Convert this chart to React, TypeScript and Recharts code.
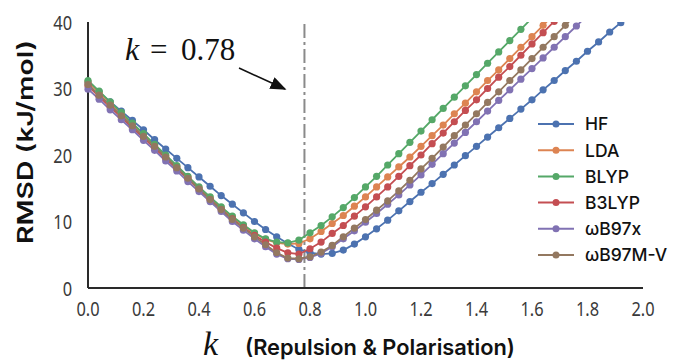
import React from "react";
import { Line, LineChart, ReferenceLine, XAxis, YAxis } from "recharts";

// k grid (0.04 steps) and RMSD (kJ/mol) per method.
// null = beyond the top of the axis (line is clipped there).
const K = [
  0, 0.04, 0.08, 0.12, 0.16, 0.2, 0.24, 0.28, 0.32, 0.36, 0.4, 0.44, 0.48, 0.52, 0.56, 0.6, 0.64,
  0.68, 0.72, 0.76, 0.8, 0.84, 0.88, 0.92, 0.96, 1.0, 1.04, 1.08, 1.12, 1.16, 1.2, 1.24, 1.28,
  1.32, 1.36, 1.4, 1.44, 1.48, 1.52, 1.56, 1.6, 1.64, 1.68, 1.72, 1.76, 1.8, 1.84, 1.88, 1.92,
  1.96, 2.0,
];

const HF = [
  30.9, 29.5, 28.0, 26.6, 25.2, 23.8, 22.3, 20.9, 19.5, 18.1, 16.7, 15.3, 13.9, 12.6, 11.3, 10.0,
  8.8, 7.7, 6.7, 5.8, 5.3, 5.1, 5.2, 5.7, 6.6, 7.7, 8.9, 10.2, 11.6, 13.0, 14.4, 15.7, 17.1, 18.5,
  19.9, 21.3, 22.7, 24.1, 25.5, 26.9, 28.3, 29.8, 31.2, 32.7, 34.1, 35.6, 37.0, 38.5, 39.9, 41.4,
  null,
];
const LDA = [
  31.0, 29.4, 27.8, 26.2, 24.7, 23.1, 21.5, 19.9, 18.3, 16.7, 15.1, 13.6, 12.1, 10.7, 9.4, 8.2,
  7.3, 6.8, 6.6, 6.7, 7.4, 8.5, 9.7, 10.9, 12.3, 13.7, 15.2, 16.7, 18.2, 19.7, 21.3, 22.9, 24.5,
  26.2, 27.8, 29.5, 31.2, 32.8, 34.5, 36.2, 37.8, 39.5, 41.2, null, null, null, null, null, null,
  null, null,
];
const BLYP = [
  31.2, 29.6, 28.0, 26.4, 24.8, 23.2, 21.6, 20.0, 18.4, 16.8, 15.2, 13.7, 12.2, 10.8, 9.5, 8.3,
  7.4, 6.9, 6.8, 7.2, 8.3, 9.4, 10.7, 12.1, 13.6, 15.2, 16.8, 18.5, 20.2, 21.9, 23.6, 25.3, 27.0,
  28.7, 30.4, 32.1, 33.8, 35.5, 37.2, 38.9, 40.6, null, null, null, null, null, null, null, null,
  null, null,
];
const B3LYP = [
  30.4, 28.8, 27.2, 25.7, 24.1, 22.6, 21.0, 19.5, 17.9, 16.4, 14.8, 13.3, 11.8, 10.4, 9.1, 7.9,
  6.9, 6.0, 5.3, 5.1, 5.9, 6.9, 8.2, 9.4, 10.8, 12.2, 13.7, 15.2, 16.8, 18.4, 20.0, 21.7, 23.3,
  25.0, 26.7, 28.3, 30.0, 31.7, 33.3, 35.0, 36.7, 38.4, 40.1, null, null, null, null, null, null,
  null, null,
];
const WB97X = [
  29.9, 28.4, 26.8, 25.3, 23.8, 22.2, 20.7, 19.1, 17.6, 16.0, 14.5, 13.0, 11.5, 10.0, 8.7, 7.4,
  6.2, 5.1, 4.4, 4.3, 4.6, 5.2, 6.2, 7.4, 8.6, 9.9, 11.2, 12.6, 14.0, 15.5, 17.0, 18.6, 20.2, 21.8,
  23.4, 25.0, 26.6, 28.2, 29.8, 31.4, 33.0, 34.6, 36.2, 37.8, 39.4, 41.0, null, null, null, null,
  null,
];
const WB97MV = [
  30.6, 29.0, 27.5, 25.9, 24.4, 22.8, 21.3, 19.7, 18.1, 16.5, 14.9, 13.3, 11.8, 10.3, 9.0, 7.7,
  6.5, 5.3, 4.5, 4.4, 4.7, 5.4, 6.4, 7.7, 9.0, 10.3, 11.7, 13.1, 14.6, 16.2, 17.9, 19.5, 21.2,
  22.9, 24.5, 26.2, 27.9, 29.5, 31.2, 32.8, 34.5, 36.2, 37.8, 39.5, 41.2, null, null, null, null,
  null, null,
];

const SERIES_NAMES = ["HF", "LDA", "BLYP", "B3LYP", "ωB97x", "ωB97M-V"];
const SERIES_VALUES = [HF, LDA, BLYP, B3LYP, WB97X, WB97MV];
const SERIES_COLORS = ["#4c72b0", "#dd8452", "#55a868", "#c44e52", "#8172b3", "#937860"];

const X_TICKS = [0, 0.2, 0.4, 0.6, 0.8, 1.0, 1.2, 1.4, 1.6, 1.8, 2.0];
const Y_TICKS = [0, 10, 20, 30, 40];
const K_MARK = 0.78;

const W = 678;
const H = 361;
const SANS = "'Noto Sans', 'DejaVu Sans', sans-serif";
const TITLE = "Inter, 'Noto Sans', sans-serif";
const SERIF = "'Liberation Serif', 'DejaVu Serif', serif";

const rows = K.map((k, i) => {
  const row: Record<string, number | null> = { k };
  SERIES_NAMES.forEach((name, s) => {
    row[name] = SERIES_VALUES[s][i];
  });
  return row;
});

// tick labels in the figure are tall and narrow - squeeze them horizontally
function XTick({ x, y, payload }: any) {
  return (
    <text
      transform={`translate(${x},${y + 15}) scale(0.8,1)`}
      textAnchor="middle"
      fontFamily={SANS}
      fontSize={20.5}
      fill="#3a3a3a"
    >
      {Number(payload.value).toFixed(1)}
    </text>
  );
}

function YTick({ x, y, payload }: any) {
  return (
    <text
      transform={`translate(${x},${y + 7.5}) scale(0.8,1)`}
      textAnchor="end"
      fontFamily={SANS}
      fontSize={20.5}
      fill="#3a3a3a"
    >
      {payload.value}
    </text>
  );
}

function Overlay() {
  return (
    <svg
      width={W}
      height={H}
      style={{ position: "absolute", left: 0, top: 0, pointerEvents: "none" }}
    >
      <defs>
        <marker id="arrowhead" markerWidth="10" markerHeight="8" refX="9" refY="4" orient="auto">
          <path d="M0,0 L10,4 L0,8 z" fill="#111" />
        </marker>
      </defs>

      {/* k = 0.78 annotation */}
      <text x={125} y={60} fontFamily={SERIF} fontSize={32} fontStyle="italic" fill="#111">
        k
      </text>
      <text x={150} y={60} fontFamily={SERIF} fontSize={31} fill="#111">
        =
      </text>
      <text x={181} y={60} fontFamily={SERIF} fontSize={31} fill="#111">
        0.78
      </text>
      <line
        x1={239}
        y1={68}
        x2={285}
        y2={89}
        stroke="#111"
        strokeWidth={1.6}
        markerEnd="url(#arrowhead)"
      />

      {/* axis titles */}
      <text
        transform="translate(33,142) rotate(-90)"
        textAnchor="middle"
        fontFamily={TITLE}
        fontWeight={600}
        fontSize={22}
        textLength={204}
        lengthAdjust="spacingAndGlyphs"
        fill="#111"
      >
        RMSD (kJ/mol)
      </text>
      <text x={203} y={355} fontFamily={SERIF} fontStyle="italic" fontSize={34} fill="#111">
        k
      </text>
      <text
        x={245}
        y={355}
        fontFamily={TITLE}
        fontWeight={600}
        fontSize={22}
        textLength={270}
        lengthAdjust="spacingAndGlyphs"
        fill="#111"
      >
        (Repulsion &amp; Polarisation)
      </text>

      {/* legend */}
      {SERIES_NAMES.map((name, i) => {
        const cy = 124 + i * 26.2;
        return (
          <g key={name}>
            <line x1={538} y1={cy} x2={574} y2={cy} stroke={SERIES_COLORS[i]} strokeWidth={2} />
            <circle cx={556} cy={cy} r={3.5} fill={SERIES_COLORS[i]} />
            <text x={585} y={cy + 6.3} fontFamily={TITLE} fontWeight={500} fontSize={17.5} fill="#111">
              {name}
            </text>
          </g>
        );
      })}
    </svg>
  );
}

export default function App() {
  return (
    <div
      style={{
        position: "absolute",
        left: 0,
        top: 0,
        width: W,
        height: H,
        background: "#fff",
      }}
    >
      <LineChart width={W} height={H} data={rows} margin={{ top: 22, right: 35, bottom: 43, left: 0 }}>
        <XAxis
          dataKey="k"
          type="number"
          domain={[0, 2]}
          ticks={X_TICKS}
          tickSize={0}
          tickMargin={13}
          height={30}
          axisLine={{ stroke: "#2a2a2a", strokeWidth: 2 }}
          tick={<XTick />}
        />
        <YAxis
          type="number"
          domain={[0, 40]}
          ticks={Y_TICKS}
          allowDataOverflow
          width={88}
          tickSize={0}
          tickMargin={16}
          axisLine={{ stroke: "#2a2a2a", strokeWidth: 2 }}
          tick={<YTick />}
        />
        <ReferenceLine x={K_MARK} stroke="#8a8a8a" strokeWidth={2} strokeDasharray="14 4 3 4" />
        {SERIES_NAMES.map((name, i) => (
          <Line
            key={name}
            type="linear"
            dataKey={name}
            stroke={SERIES_COLORS[i]}
            strokeWidth={1.8}
            dot={{ r: 3.6, fill: SERIES_COLORS[i], stroke: SERIES_COLORS[i], strokeWidth: 0 }}
            connectNulls={false}
            isAnimationActive={false}
          />
        ))}
      </LineChart>
      <Overlay />
    </div>
  );
}
